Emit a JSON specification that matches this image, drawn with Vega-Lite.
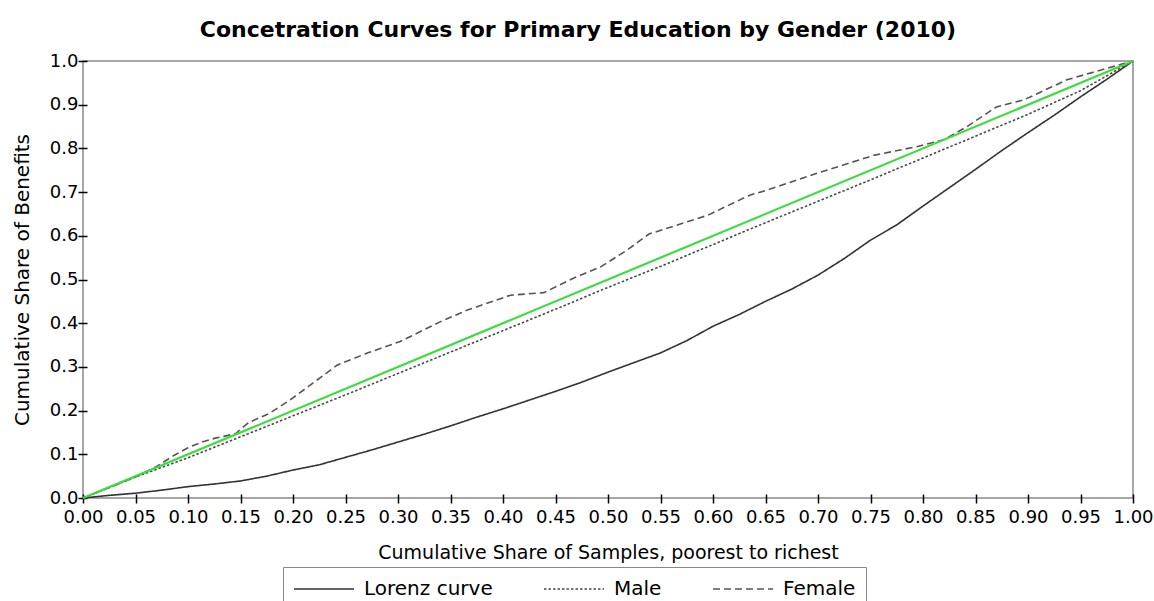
{
  "$schema": "https://vega.github.io/schema/vega-lite/v6.json",
  "width": 1050,
  "height": 437,
  "autosize": "none",
  "padding": {"left": 83, "top": 61, "right": 21, "bottom": 103},
  "background": "white",
  "title": {
    "text": "Concetration Curves for Primary Education by Gender (2010)",
    "font": "DejaVu Sans",
    "fontSize": 22,
    "fontWeight": "bold",
    "color": "black",
    "anchor": "middle",
    "dx": -30,
    "offset": 10
  },
  "config": {
    "view": {"stroke": "#8a8a8a", "strokeWidth": 1.5},
    "axis": {
      "domain": false,
      "grid": false,
      "ticks": true,
      "tickColor": "black",
      "tickSize": 9,
      "tickWidth": 1.5,
      "offset": -4,
      "labelFont": "DejaVu Sans",
      "labelFontSize": 18,
      "labelColor": "black",
      "titleFont": "DejaVu Sans",
      "titleFontWeight": "normal",
      "titleColor": "black"
    }
  },
  "datasets": {
    "curves": [
      {"series": "Lorenz curve", "x": 0, "y": 0},
      {"series": "Lorenz curve", "x": 0.025, "y": 0.006},
      {"series": "Lorenz curve", "x": 0.05, "y": 0.011},
      {"series": "Lorenz curve", "x": 0.075, "y": 0.018},
      {"series": "Lorenz curve", "x": 0.1, "y": 0.026},
      {"series": "Lorenz curve", "x": 0.125, "y": 0.032},
      {"series": "Lorenz curve", "x": 0.15, "y": 0.039},
      {"series": "Lorenz curve", "x": 0.175, "y": 0.05},
      {"series": "Lorenz curve", "x": 0.2, "y": 0.064},
      {"series": "Lorenz curve", "x": 0.225, "y": 0.076},
      {"series": "Lorenz curve", "x": 0.25, "y": 0.093},
      {"series": "Lorenz curve", "x": 0.275, "y": 0.11},
      {"series": "Lorenz curve", "x": 0.3, "y": 0.128},
      {"series": "Lorenz curve", "x": 0.325, "y": 0.146},
      {"series": "Lorenz curve", "x": 0.35, "y": 0.165},
      {"series": "Lorenz curve", "x": 0.375, "y": 0.185},
      {"series": "Lorenz curve", "x": 0.4, "y": 0.204},
      {"series": "Lorenz curve", "x": 0.425, "y": 0.224},
      {"series": "Lorenz curve", "x": 0.45, "y": 0.244},
      {"series": "Lorenz curve", "x": 0.475, "y": 0.265},
      {"series": "Lorenz curve", "x": 0.5, "y": 0.288},
      {"series": "Lorenz curve", "x": 0.525, "y": 0.31},
      {"series": "Lorenz curve", "x": 0.55, "y": 0.332},
      {"series": "Lorenz curve", "x": 0.575, "y": 0.36},
      {"series": "Lorenz curve", "x": 0.6, "y": 0.393},
      {"series": "Lorenz curve", "x": 0.625, "y": 0.42},
      {"series": "Lorenz curve", "x": 0.65, "y": 0.45},
      {"series": "Lorenz curve", "x": 0.675, "y": 0.478},
      {"series": "Lorenz curve", "x": 0.7, "y": 0.51},
      {"series": "Lorenz curve", "x": 0.725, "y": 0.548},
      {"series": "Lorenz curve", "x": 0.75, "y": 0.59},
      {"series": "Lorenz curve", "x": 0.775, "y": 0.625},
      {"series": "Lorenz curve", "x": 0.8, "y": 0.668},
      {"series": "Lorenz curve", "x": 0.825, "y": 0.71},
      {"series": "Lorenz curve", "x": 0.85, "y": 0.752},
      {"series": "Lorenz curve", "x": 0.875, "y": 0.795},
      {"series": "Lorenz curve", "x": 0.9, "y": 0.836},
      {"series": "Lorenz curve", "x": 0.925, "y": 0.876},
      {"series": "Lorenz curve", "x": 0.95, "y": 0.918},
      {"series": "Lorenz curve", "x": 0.975, "y": 0.958},
      {"series": "Lorenz curve", "x": 1, "y": 1},
      {"series": "Male", "x": 0, "y": 0},
      {"series": "Male", "x": 0.05, "y": 0.048},
      {"series": "Male", "x": 0.1, "y": 0.092},
      {"series": "Male", "x": 0.15, "y": 0.14},
      {"series": "Male", "x": 0.2, "y": 0.188},
      {"series": "Male", "x": 0.25, "y": 0.236},
      {"series": "Male", "x": 0.3, "y": 0.285},
      {"series": "Male", "x": 0.35, "y": 0.334},
      {"series": "Male", "x": 0.4, "y": 0.383},
      {"series": "Male", "x": 0.45, "y": 0.432},
      {"series": "Male", "x": 0.5, "y": 0.482},
      {"series": "Male", "x": 0.55, "y": 0.53},
      {"series": "Male", "x": 0.6, "y": 0.58},
      {"series": "Male", "x": 0.65, "y": 0.63},
      {"series": "Male", "x": 0.7, "y": 0.679},
      {"series": "Male", "x": 0.75, "y": 0.728},
      {"series": "Male", "x": 0.8, "y": 0.778},
      {"series": "Male", "x": 0.85, "y": 0.828},
      {"series": "Male", "x": 0.9, "y": 0.878},
      {"series": "Male", "x": 0.95, "y": 0.932},
      {"series": "Male", "x": 1, "y": 1},
      {"series": "Female", "x": 0, "y": 0},
      {"series": "Female", "x": 0.025, "y": 0.024},
      {"series": "Female", "x": 0.05, "y": 0.048},
      {"series": "Female", "x": 0.07, "y": 0.072},
      {"series": "Female", "x": 0.087, "y": 0.098},
      {"series": "Female", "x": 0.1, "y": 0.115},
      {"series": "Female", "x": 0.113, "y": 0.128},
      {"series": "Female", "x": 0.126, "y": 0.137},
      {"series": "Female", "x": 0.145, "y": 0.147},
      {"series": "Female", "x": 0.158, "y": 0.173},
      {"series": "Female", "x": 0.177, "y": 0.193},
      {"series": "Female", "x": 0.197, "y": 0.224},
      {"series": "Female", "x": 0.223, "y": 0.27},
      {"series": "Female", "x": 0.242, "y": 0.304},
      {"series": "Female", "x": 0.27, "y": 0.331},
      {"series": "Female", "x": 0.302, "y": 0.358},
      {"series": "Female", "x": 0.34, "y": 0.403},
      {"series": "Female", "x": 0.366, "y": 0.43},
      {"series": "Female", "x": 0.407, "y": 0.464},
      {"series": "Female", "x": 0.439, "y": 0.47},
      {"series": "Female", "x": 0.467, "y": 0.503},
      {"series": "Female", "x": 0.493, "y": 0.529},
      {"series": "Female", "x": 0.518, "y": 0.567},
      {"series": "Female", "x": 0.539, "y": 0.604},
      {"series": "Female", "x": 0.595, "y": 0.647},
      {"series": "Female", "x": 0.635, "y": 0.693},
      {"series": "Female", "x": 0.651, "y": 0.704},
      {"series": "Female", "x": 0.699, "y": 0.743},
      {"series": "Female", "x": 0.753, "y": 0.784},
      {"series": "Female", "x": 0.794, "y": 0.804},
      {"series": "Female", "x": 0.82, "y": 0.82},
      {"series": "Female", "x": 0.842, "y": 0.85},
      {"series": "Female", "x": 0.87, "y": 0.895},
      {"series": "Female", "x": 0.896, "y": 0.911},
      {"series": "Female", "x": 0.937, "y": 0.957},
      {"series": "Female", "x": 0.969, "y": 0.979},
      {"series": "Female", "x": 1, "y": 1}
    ],
    "diag": [
      {"x": 0, "y": 0},
      {"x": 1, "y": 1}
    ]
  },
  "layer": [
    {
      "data": {"name": "curves"},
      "mark": {"type": "line", "strokeWidth": 1.6},
      "encoding": {
        "x": {
          "field": "x", "type": "quantitative",
          "scale": {"domain": [0, 1], "nice": false, "zero": false},
          "axis": {
            "values": [0, 0.05, 0.1, 0.15, 0.2, 0.25, 0.3, 0.35, 0.4, 0.45, 0.5, 0.55, 0.6, 0.65, 0.7, 0.75, 0.8, 0.85, 0.9, 0.95, 1],
            "format": ".2f",
            "labelPadding": 5,
            "labelOverlap": false,
            "labelFlush": false,
            "title": "Cumulative Share of Samples, poorest to richest",
            "titleFontSize": 19,
            "titlePadding": 17
          }
        },
        "y": {
          "field": "y", "type": "quantitative",
          "scale": {"domain": [0, 1], "nice": false, "zero": false},
          "axis": {
            "values": [0, 0.1, 0.2, 0.3, 0.4, 0.5, 0.6, 0.7, 0.8, 0.9, 1],
            "format": ".1f",
            "labelPadding": 0,
            "labelOverlap": false,
            "labelFlush": false,
            "title": "Cumulative Share of Benefits",
            "titleFontSize": 20,
            "titlePadding": 17
          }
        },
        "color": {
          "field": "series", "type": "nominal",
          "scale": {"domain": ["Lorenz curve", "Male", "Female"], "range": ["#333333", "#4a4a4a", "#555555"]},
          "legend": {
            "title": null,
            "orient": "none",
            "legendX": 200,
            "legendY": 506,
            "direction": "horizontal",
            "strokeColor": "#888888",
            "fillColor": "white",
            "padding": 10,
            "symbolType": "stroke",
            "symbolSize": 3600,
            "symbolStrokeWidth": 1.5,
            "clipHeight": 24,
            "labelFont": "DejaVu Sans",
            "labelFontSize": 20,
            "labelColor": "black",
            "labelOffset": 9,
            "columnPadding": 50
          }
        },
        "strokeDash": {
          "field": "series", "type": "nominal",
          "scale": {"domain": ["Lorenz curve", "Male", "Female"], "range": [[1, 0], [2.5, 2], [7, 4]]},
          "legend": {
            "title": null,
            "orient": "none",
            "legendX": 200,
            "legendY": 506,
            "direction": "horizontal",
            "strokeColor": "#888888",
            "fillColor": "white",
            "padding": 10,
            "symbolType": "stroke",
            "symbolSize": 3600,
            "symbolStrokeWidth": 1.5,
            "clipHeight": 24,
            "labelFont": "DejaVu Sans",
            "labelFontSize": 20,
            "labelColor": "black",
            "labelOffset": 9,
            "columnPadding": 50
          }
        }
      }
    },
    {
      "data": {"name": "diag"},
      "mark": {"type": "line", "color": "#3fdc3f", "strokeWidth": 2.2},
      "encoding": {
        "x": {"field": "x", "type": "quantitative"},
        "y": {"field": "y", "type": "quantitative"}
      }
    }
  ]
}
